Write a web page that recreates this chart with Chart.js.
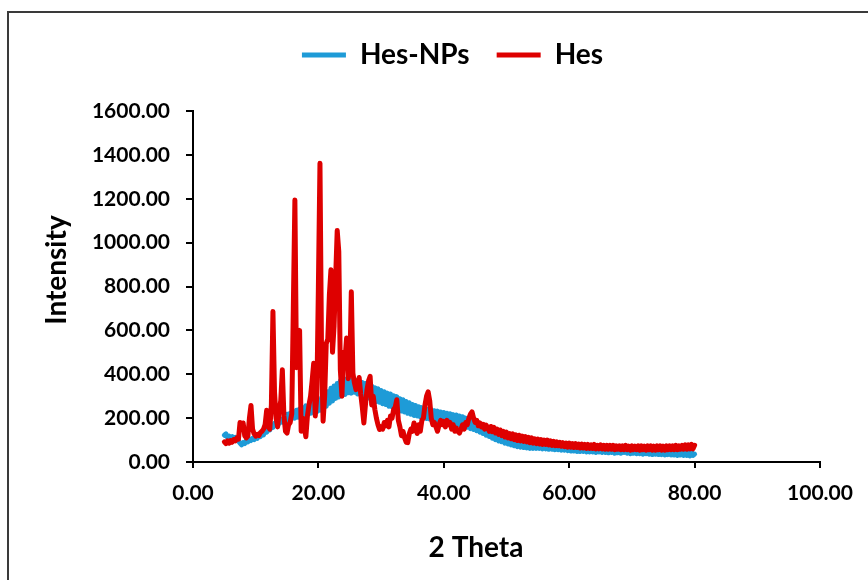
<!DOCTYPE html>
<html>
<head>
<meta charset="utf-8">
<title>XRD patterns: Hes-NPs and Hes</title>
<script src="https://cdn.jsdelivr.net/npm/chart.js@4.4.1/dist/chart.umd.min.js"></script>
<style>
  html, body { margin: 0; padding: 0; background: #fff; }
  canvas { display: block; }
</style>
</head>
<body>
<canvas id="xrd" width="868" height="580"></canvas>
<script>
// Diffractogram scan: 2θ from 5° to 80°, 0.25° per step
const scanStart = 5;
const scanStep = 0.25;

const seriesNames = ['Hes-NPs', 'Hes'];
const seriesColors = ['rgb(30,155,215)', 'rgb(222,0,0)'];
const xTitle = '2 Theta';
const yTitle = 'Intensity';
const xRange = [0, 100, 20];    // min, max, step
const yRange = [0, 1600, 200];

// Hes-NPs intensities, one row per degree (x.00, x.25, x.50, x.75)
const hesNPsIntensity = [
  122, 128, 112, 118,   // 5
  110, 116, 104, 112,   // 6
  100, 96, 86, 78,      // 7
  88, 84, 98, 92,       // 8
  104, 98, 108, 102,    // 9
  114, 108, 120, 116,   // 10
  130, 124, 142, 136,   // 11
  152, 146, 166, 158,   // 12
  176, 168, 184, 176,   // 13
  194, 182, 202, 188,   // 14
  218, 192, 222, 198,   // 15
  230, 200, 236, 204,   // 16
  242, 208, 248, 214,   // 17
  256, 216, 262, 222,   // 18
  270, 226, 276, 230,   // 19
  280, 236, 292, 246,   // 20
  304, 254, 320, 268,   // 21
  336, 278, 346, 290,   // 22
  358, 296, 370, 306,   // 23
  368, 308, 378, 316,   // 24
  376, 314, 374, 318,   // 25
  372, 310, 370, 308,   // 26
  362, 302, 358, 298,   // 27
  352, 290, 346, 286,   // 28
  338, 276, 334, 272,   // 29
  326, 266, 320, 262,   // 30
  314, 254, 310, 252,   // 31
  302, 244, 298, 240,   // 32
  288, 232, 284, 228,   // 33
  276, 222, 270, 218,   // 34
  262, 212, 258, 210,   // 35
  252, 206, 248, 202,   // 36
  244, 198, 240, 196,   // 37
  238, 192, 234, 190,   // 38
  232, 186, 228, 184,   // 39
  226, 180, 222, 178,   // 40
  220, 176, 216, 172,   // 41
  214, 170, 210, 166,   // 42
  206, 162, 200, 158,   // 43
  196, 152, 190, 148,   // 44
  184, 142, 176, 136,   // 45
  168, 130, 160, 122,   // 46
  152, 116, 144, 108,   // 47
  136, 102, 128, 96,    // 48
  122, 92, 116, 86,     // 49
  112, 82, 106, 78,     // 50
  102, 74, 98, 70,      // 51
  96, 68, 92, 66,       // 52
  90, 64, 88, 62,       // 53
  88, 62, 86, 62,       // 54
  86, 62, 84, 60,       // 55
  82, 60, 82, 58,       // 56
  80, 58, 80, 56,       // 57
  78, 56, 78, 54,       // 58
  76, 54, 74, 52,       // 59
  70, 50, 68, 50,       // 60
  68, 48, 66, 48,       // 61
  68, 48, 64, 46,       // 62
  66, 46, 64, 46,       // 63
  62, 44, 64, 46,       // 64
  62, 44, 60, 44,       // 65
  62, 42, 60, 44,       // 66
  58, 40, 60, 42,       // 67
  58, 40, 64, 44,       // 68
  60, 40, 56, 38,       // 69
  58, 40, 56, 38,       // 70
  58, 38, 54, 36,       // 71
  56, 38, 54, 36,       // 72
  54, 34, 52, 36,       // 73
  54, 34, 52, 34,       // 74
  52, 32, 50, 34,       // 75
  52, 32, 50, 32,       // 76
  50, 30, 48, 32,       // 77
  50, 30, 48, 30,       // 78
  46, 28, 48, 30,       // 79
  36                    // 80
];

// Hes intensities, same scan grid
const hesIntensity = [
  92, 84, 96, 86,       // 5
  98, 90, 102, 96,      // 6
  110, 104, 180, 150,   // 7
  178, 120, 110, 118,   // 8
  200, 258, 150, 128,   // 9
  118, 126, 120, 134,   // 10
  140, 150, 170, 236,   // 11
  160, 150, 260, 686,   // 12
  320, 200, 160, 240,   // 13
  280, 420, 210, 140,   // 14
  132, 170, 180, 220,   // 15
  700, 1194, 430, 470,  // 16
  600, 140, 200, 160,   // 17
  115, 210, 260, 300,   // 18
  370, 450, 210, 300,   // 19
  800, 1362, 500, 186,  // 20
  300, 540, 560, 760,   // 21
  876, 500, 620, 840,   // 22
  1055, 960, 420, 300,  // 23
  500, 470, 565, 380,   // 24
  420, 776, 405, 360,   // 25
  330, 350, 385, 310,   // 26
  250, 178, 260, 330,   // 27
  370, 390, 260, 300,   // 28
  240, 200, 170, 148,   // 29
  160, 150, 180, 165,   // 30
  190, 160, 210, 200,   // 31
  240, 250, 284, 190,   // 32
  160, 120, 140, 110,   // 33
  90, 88, 130, 150,     // 34
  140, 178, 150, 130,   // 35
  170, 140, 190, 200,   // 36
  260, 300, 320, 280,   // 37
  200, 170, 180, 160,   // 38
  140, 170, 190, 170,   // 39
  185, 160, 190, 170,   // 40
  180, 150, 170, 140,   // 41
  155, 140, 132, 150,   // 42
  170, 150, 180, 170,   // 43
  200, 218, 229, 200,   // 44
  180, 190, 165, 178,   // 45
  160, 172, 150, 168,   // 46
  156, 140, 162, 138,   // 47
  158, 132, 150, 126,   // 48
  146, 120, 140, 114,   // 49
  136, 110, 130, 106,   // 50
  128, 102, 124, 98,    // 51
  122, 96, 118, 94,     // 52
  116, 92, 112, 88,     // 53
  110, 86, 106, 84,     // 54
  104, 82, 102, 80,     // 55
  100, 80, 100, 78,     // 56
  96, 76, 94, 74,       // 57
  92, 74, 90, 72,       // 58
  88, 70, 86, 68,       // 59
  86, 68, 84, 66,       // 60
  84, 66, 82, 64,       // 61
  82, 64, 80, 62,       // 62
  80, 62, 78, 62,       // 63
  80, 60, 76, 60,       // 64
  78, 60, 76, 58,       // 65
  76, 58, 76, 58,       // 66
  76, 56, 74, 58,       // 67
  74, 56, 74, 56,       // 68
  76, 56, 72, 54,       // 69
  74, 56, 72, 56,       // 70
  74, 54, 74, 56,       // 71
  72, 54, 74, 56,       // 72
  74, 54, 72, 54,       // 73
  74, 56, 74, 54,       // 74
  72, 54, 74, 56,       // 75
  74, 56, 74, 56,       // 76
  76, 56, 74, 58,       // 77
  76, 58, 78, 58,       // 78
  78, 60, 80, 60,       // 79
  76                    // 80
];

const toPoints = (values) => values.map((y, i) => ({ x: scanStart + i * scanStep, y }));

const FONT = 'Lato, "Open Sans", sans-serif';

// Outer chart frame and the two axis titles
const frameAndTitles = {
  id: 'frameAndTitles',
  beforeDraw(chart) {
    const { ctx, width, height } = chart;
    ctx.save();
    ctx.fillStyle = '#ffffff';
    ctx.fillRect(0, 0, width, height);
    ctx.strokeStyle = '#3a3a3a';
    ctx.lineWidth = 2;
    ctx.beginPath();
    ctx.moveTo(8, height + 4);
    ctx.lineTo(8, 12);
    ctx.lineTo(width + 4, 12);
    ctx.stroke();
    ctx.restore();
  },
  afterDraw(chart) {
    const ctx = chart.ctx;
    ctx.save();
    ctx.fillStyle = '#000';
    ctx.font = 'bold 28px ' + FONT;
    ctx.textAlign = 'center';
    ctx.textBaseline = 'middle';
    ctx.fillText(xTitle, 476, 548);
    ctx.translate(57, 270);
    ctx.rotate(-Math.PI / 2);
    ctx.fillText(yTitle, 0, 0);
    ctx.restore();
  }
};

function drawChart() {
  const datasets = [hesNPsIntensity, hesIntensity].map((vals, i) => ({
    label: seriesNames[i],
    data: toPoints(vals),
    borderColor: seriesColors[i],
    backgroundColor: seriesColors[i],
    borderWidth: 5,
    borderJoinStyle: 'round',
    borderCapStyle: 'round',
    pointRadius: 0,
    showLine: true,
    tension: 0,
    order: i === 0 ? 2 : 1   // Hes trace on top
  }));

  new Chart(document.getElementById('xrd'), {
    type: 'scatter',
    data: { datasets },
    plugins: [frameAndTitles],
    options: {
      responsive: false,
      animation: false,
      devicePixelRatio: 1,
      layout: { padding: { left: 85, right: 48, top: 14, bottom: 0 } },
      plugins: {
        tooltip: { enabled: false },
        legend: {
          position: 'top',
          weight: 3000,
          labels: {
            color: '#000',
            font: { family: FONT, size: 28, weight: 'bold' },
            boxWidth: 44,
            boxHeight: 5,
            padding: 27,
            sort: (a, b) => a.datasetIndex - b.datasetIndex,
            generateLabels(chart) {
              const items = Chart.defaults.plugins.legend.labels.generateLabels(chart);
              items.forEach(it => { it.lineWidth = 0; it.fillStyle = it.strokeStyle; });
              return items;
            }
          }
        },
        // blank band between the legend and the plot
        title: { display: true, text: '', font: { size: 1 }, padding: { top: 0, bottom: 30.8 } }
      },
      scales: {
        x: {
          type: 'linear',
          min: xRange[0], max: xRange[1],
          afterFit(scale) { scale.height = 118; },
          border: { display: true, color: '#000', width: 2 },
          grid: { drawOnChartArea: false, drawTicks: true, tickLength: 6, color: '#000', lineWidth: 2 },
          ticks: {
            stepSize: xRange[2],
            padding: 13,
            color: '#000',
            font: { family: FONT, size: 21, weight: 'bold' },
            maxRotation: 0,
            callback: (v) => Number(v).toFixed(2)
          }
        },
        y: {
          type: 'linear',
          min: yRange[0], max: yRange[1],
          afterFit(scale) { scale.width = 108; },
          border: { display: true, color: '#000', width: 2 },
          grid: { drawOnChartArea: false, drawTicks: true, tickLength: 7, color: '#000', lineWidth: 2 },
          ticks: {
            stepSize: yRange[2],
            padding: 16,
            color: '#000',
            font: { family: FONT, size: 21, weight: 'bold' },
            callback: (v) => Number(v).toFixed(2)
          }
        }
      }
    }
  });
}

if (document.fonts && document.fonts.load) {
  document.fonts.load('bold 20px Lato').then(drawChart, drawChart);
} else {
  drawChart();
}
</script>
</body>
</html>
